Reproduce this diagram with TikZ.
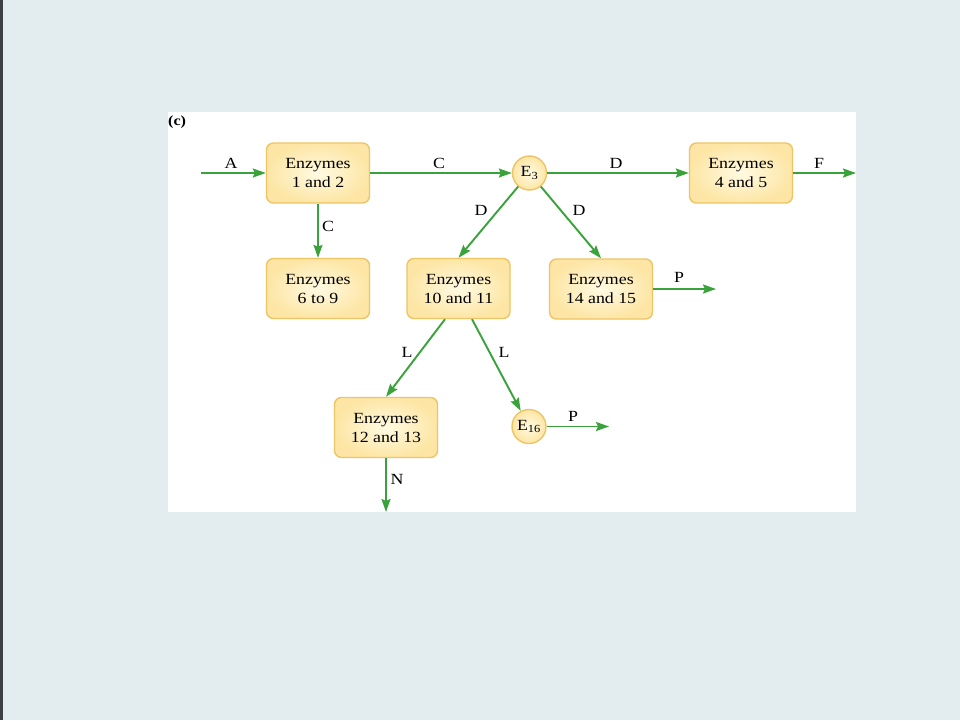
\documentclass[tikz,border=0pt]{standalone}
\usepackage{fontspec}
\setmainfont{Liberation Serif}[FakeStretch=1.15]
\usetikzlibrary{arrows.meta,calc}
\definecolor{bgblue}{RGB}{227,237,240}
\definecolor{edgestrip}{RGB}{60,64,70}
\definecolor{flowgreen}{RGB}{58,162,58}
\definecolor{boxedge}{RGB}{238,196,100}
\definecolor{boxin}{RGB}{255,250,226}
\definecolor{boxout}{RGB}{253,230,165}
\tikzset{
  enz/.style={draw=boxedge, line width=1.4pt, rounded corners=7pt,
    minimum width=103pt, minimum height=60pt, inner sep=2pt,
    inner color=boxin, outer color=boxout, align=center,
    font=\fontsize{15.5}{19}\selectfont},
  enzc/.style={circle, draw=boxedge, line width=1.4pt, minimum size=34pt,
    inner sep=0pt, inner color=boxin, outer color=boxout,
    font=\fontsize{15.5}{19}\selectfont},
  flow/.style={draw=flowgreen, line width=1.9pt,
    -{Stealth[length=13pt,width=9pt,inset=2pt]}},
  lab/.style={inner sep=0pt, font=\fontsize{15.5}{19}\selectfont}
}
\begin{document}
\begin{tikzpicture}[x=1pt,y=-1pt]
\useasboundingbox (0,0) rectangle (960,720);
\fill[bgblue] (0,0) rectangle (960,720);
\fill[edgestrip] (0,0) rectangle (3,720);
\fill[white] (168,112) rectangle (856,512);
\node[anchor=west, inner sep=0pt, font=\fontsize{14}{16}\selectfont\bfseries] (tag) at (168,122) {(c)};

% enzyme boxes
\node[enz] (b12)   at (318,173)     {Enzymes\\1 and 2};
\node[enz] (b69)   at (318,288.5)   {Enzymes\\6 to 9};
\node[enz] (b1011) at (458.5,288.5) {Enzymes\\10 and 11};
\node[enz] (b1415) at (601,289)     {Enzymes\\14 and 15};
\node[enz] (b45)   at (741,173)     {Enzymes\\4 and 5};
\node[enz] (b1213) at (386,427.5)   {Enzymes\\12 and 13};
\node[enzc] (E3)   at (529.5,173)   {E\textsubscript{3}};
\node[enzc] (E16)  at (529,426.5)   {E\textsubscript{16}};

% free ends
\coordinate (Ain)   at (201,173);
\coordinate (Fout)  at (856,173);
\coordinate (Pout1) at (716,289);
\coordinate (Pout2) at (609,426.5);
\coordinate (Nout)  at (386,512);
\coordinate (Lleft)  at ($(b1011.south)+(-13.5,0)$);
\coordinate (Lright) at ($(b1011.south)+(13.5,0)$);

% connectors
\draw[flow] (Ain) -- (b12);
\draw[flow] (b12) -- (E3);
\draw[flow] (b12) -- (b69);
\draw[flow] (E3) -- (b45);
\draw[flow] (b45) -- (Fout);
\draw[flow] (E3) -- (b1011.north);
\draw[flow] (E3) -- (b1415.north);
\draw[flow] (b1415.east) -- (Pout1);
\draw[flow] (Lleft) -- (b1213.north);
\draw[flow] (Lright) -- (E16);
\draw[flow] (E16) -- (Pout2);
\draw[flow] (b1213) -- (Nout);

% labels
\node[lab] (lA)  at (231,163)   {A};
\node[lab] (lC1) at (439,163)   {C};
\node[lab] (lD1) at (616,163)   {D};
\node[lab] (lF)  at (819,163)   {F};
\node[lab] (lC2) at (328,226)   {C};
\node[lab] (lD2) at (481,210)   {D};
\node[lab] (lD3) at (579,210)   {D};
\node[lab] (lP1) at (679,277)   {P};
\node[lab] (lL1) at (407,352)   {L};
\node[lab] (lL2) at (504,352)   {L};
\node[lab] (lP2) at (573,416)   {P};
\node[lab] (lN)  at (397,479)   {N};
\end{tikzpicture}
\end{document}
